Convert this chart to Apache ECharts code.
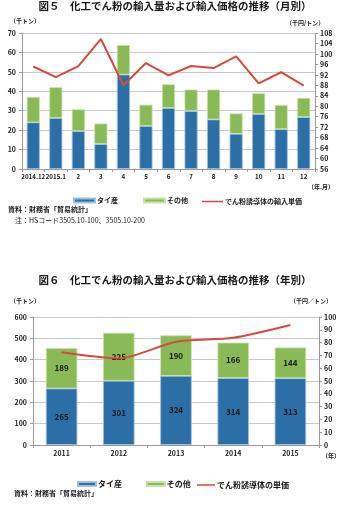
<!DOCTYPE html>
<html>
<head>
<meta charset="utf-8">
<script src="https://cdn.jsdelivr.net/npm/echarts@6/dist/echarts.min.js"></script>
<style>
html,body{margin:0;padding:0;background:#fff;}
#c{width:350px;height:512px;}
</style>
</head>
<body>
<div id="c"></div>
<script>
// ---- Chart 1 (monthly) ----
const months = ['2014.12','2015.1','2','3','4','5','6','7','8','9','10','11','12'];
const thaiMonthly = [24.0, 26.2, 19.5, 12.8, 48.6, 22.1, 31.4, 29.8, 25.5, 18.1, 28.3, 20.5, 26.7];
const otherMonthly = [13.1, 15.9, 11.2, 10.6, 15.2, 11.0, 12.2, 11.1, 15.4, 10.5, 10.7, 12.4, 9.9];
const priceMonthly = [95.2, 91.1, 95.3, 105.7, 88.0, 96.5, 91.8, 95.4, 94.6, 99.1, 88.7, 93.0, 87.9];
const leftTicks1 = {min: 0, max: 70, interval: 10};
const rightTicks1 = {min: 56, max: 108, interval: 4};

// ---- Chart 2 (yearly) ----
const years = ['2011','2012','2013','2014','2015'];
const thaiYearly = [265, 301, 324, 314, 313];
const otherYearly = [189, 225, 190, 166, 144];
const priceYearly = [72.4, 67.6, 80.7, 83.8, 93.8];
const leftTicks2 = {min: 0, max: 600, interval: 100};
const rightTicks2 = {min: 0, max: 100, interval: 10};

const BLUE = '#2C6EA6';
const GREEN = '#8AB957';
const RED = '#D8483F';
const TXT = '#1a1a1a';
const FONT = '"Noto Sans CJK JP", "Noto Sans", sans-serif';

const chart = echarts.init(document.getElementById('c'), null, {renderer: 'canvas'});

function catAxis(idx, data, fs) {
  return {
    type: 'category', gridIndex: idx, data: data,
    axisLine: {lineStyle: {color: '#9a9a9a'}},
    axisTick: {show: true, alignWithLabel: false, length: 3, lineStyle: {color: '#9a9a9a'}},
    axisLabel: {color: TXT, fontSize: fs, fontWeight: 'bold', fontFamily: FONT, margin: 5, interval: 0}
  };
}
function valAxis(idx, t, pos, split) {
  return {
    type: 'value', gridIndex: idx, position: pos,
    min: t.min, max: t.max, interval: t.interval,
    axisLine: {show: true, lineStyle: {color: '#9a9a9a'}},
    axisTick: {show: true, length: 3, lineStyle: {color: '#9a9a9a'}},
    axisLabel: {color: TXT, fontSize: 7, fontWeight: 'bold', fontFamily: FONT, margin: pos === 'left' ? 6 : 5},
    splitLine: {show: split, lineStyle: {color: '#c8c8c8', width: 1}}
  };
}

const barStyleBlue = {color: BLUE, borderColor: '#9cc0e0', borderWidth: 0.8};
const barStyleGreen = {color: GREEN, borderColor: '#c8e3a8', borderWidth: 0.8};

function legend(left, top, names, w, h, fs, gap) {
  return {
    left: left, top: top, itemGap: gap, itemWidth: w, itemHeight: h,
    textStyle: {fontSize: fs, fontWeight: 'bold', color: TXT, fontFamily: FONT, padding: [0,0,0,-3]},
    data: names.map(n => ({name: n, icon: 'rect'}))
  };
}

const option = {
  animation: false,
  textStyle: {fontFamily: FONT},
  grid: [
    {left: 22, right: 35, top: 33, bottom: 343},
    {left: 33, right: 31, top: 317, bottom: 67}
  ],
  xAxis: [catAxis(0, months, 6.2), catAxis(1, years, 7)],
  yAxis: [
    valAxis(0, leftTicks1, 'left', true),
    valAxis(0, rightTicks1, 'right', false),
    valAxis(1, leftTicks2, 'left', true),
    valAxis(1, rightTicks2, 'right', false)
  ],
  legend: [
    legend(68, 192, ['タイ産', 'その他'], 21, 4, 7, 25),
    legend(197, 193, ['でん粉誘導体の輸入単価'], 21, 1.5, 7, 10),
    legend(72, 475, ['タイ産 ', 'その他 '], 18, 4, 8, 22),
    legend(192, 476, ['でん粉誘導体の単価'], 18, 1.5, 8, 10)
  ],
  series: [
    {name: 'タイ産', type: 'bar', stack: 'm', xAxisIndex: 0, yAxisIndex: 0, barWidth: '58%',
     data: thaiMonthly, itemStyle: barStyleBlue},
    {name: 'その他', type: 'bar', stack: 'm', xAxisIndex: 0, yAxisIndex: 0, barWidth: '58%',
     data: otherMonthly, itemStyle: barStyleGreen},
    {name: 'でん粉誘導体の輸入単価', type: 'line', xAxisIndex: 0, yAxisIndex: 1,
     data: priceMonthly, symbol: 'none', lineStyle: {color: RED, width: 2}, itemStyle: {color: RED}},

    {name: 'タイ産 ', type: 'bar', stack: 'y', xAxisIndex: 1, yAxisIndex: 2, barWidth: '55%',
     data: thaiYearly, itemStyle: barStyleBlue,
     label: {show: true, position: 'inside', color: TXT, fontSize: 8, fontWeight: 'bold', fontFamily: FONT}},
    {name: 'その他 ', type: 'bar', stack: 'y', xAxisIndex: 1, yAxisIndex: 2, barWidth: '55%',
     data: otherYearly, itemStyle: barStyleGreen,
     label: {show: true, position: 'inside', color: TXT, fontSize: 8, fontWeight: 'bold', fontFamily: FONT}},
    {name: 'でん粉誘導体の単価', type: 'line', xAxisIndex: 1, yAxisIndex: 3,
     data: priceYearly, symbol: 'none', smooth: 0.25, lineStyle: {color: RED, width: 2}, itemStyle: {color: RED}}
  ],
  graphic: [
    {type: 'text', left: 'center', top: 1, style: {text: '図５　化工でん粉の輸入量および輸入価格の推移（月別）', font: 'bold 10.5px ' + FONT, fill: TXT}},
    {type: 'text', left: 10, top: 18, style: {text: '（千トン）', font: 'bold 6px ' + FONT, fill: TXT}},
    {type: 'text', left: 286, top: 20, style: {text: '（千円/トン）', font: 'bold 6px ' + FONT, fill: TXT}},
    {type: 'text', left: 308, top: 184, style: {text: '（年.月）', font: 'bold 6px ' + FONT, fill: TXT}},
    {type: 'text', left: 8, top: 206, style: {text: '資料：財務省「貿易統計」', font: 'bold 7px ' + FONT, fill: TXT}},
    {type: 'text', left: 8, top: 217, style: {text: '　注：HSコード3505.10-100、3505.10-200', font: '7px ' + FONT, fill: TXT}},

    {type: 'text', left: 'center', top: 275, style: {text: '図６　化工でん粉の輸入量および輸入価格の推移（年別）', font: 'bold 10.5px ' + FONT, fill: TXT}},
    {type: 'text', left: 10, top: 298, style: {text: '（千トン）', font: 'bold 6px ' + FONT, fill: TXT}},
    {type: 'text', left: 290, top: 298, style: {text: '（千円／トン）', font: 'bold 6px ' + FONT, fill: TXT}},
    {type: 'text', left: 322, top: 453, style: {text: '（年）', font: 'bold 6px ' + FONT, fill: TXT}},
    {type: 'text', left: 14, top: 490, style: {text: '資料：財務省「貿易統計」', font: 'bold 7px ' + FONT, fill: TXT}}
  ]
};
chart.setOption(option);
</script>
</body>
</html>
